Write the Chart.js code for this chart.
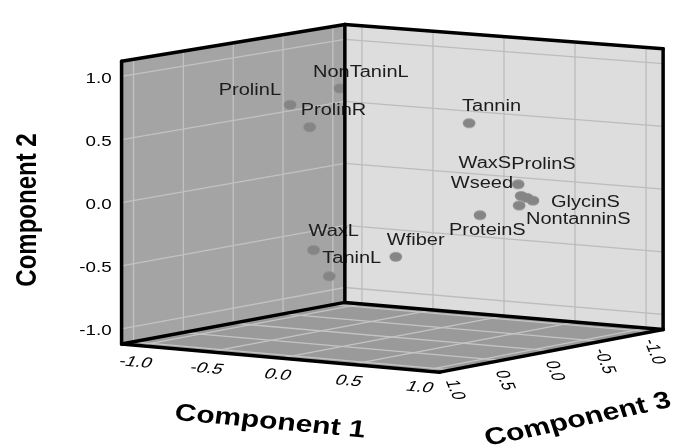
<!DOCTYPE html>
<html><head><meta charset="utf-8">
<script src="https://cdn.jsdelivr.net/npm/chart.js@4.4.0/dist/chart.umd.min.js"></script>
<style>html,body{margin:0;padding:0;background:#fff;overflow:hidden}canvas{display:block}</style>
</head><body>
<canvas id="c" width="676" height="445"></canvas>
<script>
// ---- data (component loadings) ----
const labels = ['NonTaninL','ProlinL','ProlinR','Tannin','ProlinS','WaxS','NontanninS','GlycinS','Wseed','ProteinS','Wfiber','WaxL','TaninL'];
const component1 = [-0.158,-0.580,-0.512,0.400,0.780,0.766,0.772,0.779,0.822,0.792,0.410,-0.204,-0.023];
const component2 = [0.886,0.702,0.517,0.591,0.148,0.047,0.025,-0.004,-0.010,-0.039,-0.362,-0.375,-0.551];
const component3 = [0.30,0.20,0.10,-0.20,-0.15,-0.20,-0.25,-0.30,-0.10,0.25,0.55,0.50,0.60];
const tickValues = [-1.0,-0.5,0.0,0.5,1.0];
const tickLabels = ['-1.0','-0.5','0.0','0.5','1.0'];
const axisTitles = ['Component 1','Component 2','Component 3'];

// ---- layout / style ----
const R = 1.12; // half extent of the cube in loading units
const box = {
  bottom:{D:[345,305],C:[670,333],A:[117,348],B:[442,377]},
  top:{D:[345,18],C:[670,43],A:[117,56],B:[442,84]}
};
// label placement: [align, dx, dy]
const labelPlace = {
  NonTaninL:['left',-27,-16], ProlinL:['right',-9,-14], ProlinR:['left',-9,-17], Tannin:['left',-7,-17],
  ProlinS:['left',-7,-20], WaxS:['right',-10,-32], NontanninS:['left',-1,22], GlycinS:['left',18,2],
  Wseed:['right',-6,-22], ProteinS:['left',-31,15], Wfiber:['left',-9,-16], WaxL:['left',-5,-18], TaninL:['left',-7,-18]
};
const SX = 1.25; // horizontal text stretch
const FONT = '"Liberation Sans", Arial, sans-serif';

function proj(c1,c2,c3){
  const u=(c1+R)/(2*R), v=(c2+R)/(2*R), w=(c3+R)/(2*R);
  const bil=q=>[0,1].map(i=>q.D[i]*(1-u)*(1-w)+q.C[i]*u*(1-w)+q.A[i]*(1-u)*w+q.B[i]*u*w);
  const b=bil(box.bottom), t=bil(box.top);
  return {x:b[0]+(t[0]-b[0])*v, y:b[1]+(t[1]-b[1])*v};
}

const pointImg=(()=>{const c=document.createElement('canvas');c.width=16;c.height=12;const g=c.getContext('2d');
  g.fillStyle='#858585';g.beginPath();g.ellipse(8,6,6.3,4.8,0,0,Math.PI*2);g.fill();return c;})();

function txt(ctx,s,x,y,o){
  ctx.save();ctx.translate(x,y);ctx.scale(o.sx||SX,1);if(o.rot)ctx.rotate(o.rot);
  if(o.skew)ctx.transform(1,0,o.skew,1,0,0);
  ctx.font=o.font;ctx.textAlign=o.align||'center';ctx.textBaseline=o.base||'middle';ctx.fillStyle=o.color||'#000';
  ctx.fillText(s,0,0);ctx.restore();
}

const cubePlugin={
  id:'cube',
  beforeDatasetsDraw(chart){
    const ctx=chart.ctx, xs=chart.scales.x, ys=chart.scales.y;
    const P=(a,b,c)=>{const p=proj(a,b,c);return [xs.getPixelForValue(p.x),ys.getPixelForValue(p.y)];};
    const poly=(pts,fill)=>{ctx.beginPath();pts.forEach((p,i)=>i?ctx.lineTo(p[0],p[1]):ctx.moveTo(p[0],p[1]));ctx.closePath();ctx.fillStyle=fill;ctx.fill();};
    const line=(p,q,col,w)=>{ctx.beginPath();ctx.moveTo(p[0],p[1]);ctx.lineTo(q[0],q[1]);ctx.strokeStyle=col;ctx.lineWidth=w;ctx.stroke();};
    ctx.save();
    // walls
    poly([P(-R,-R,R),P(-R,-R,-R),P(-R,R,-R),P(-R,R,R)],'#a4a4a4');
    poly([P(-R,-R,-R),P(R,-R,-R),P(R,R,-R),P(-R,R,-R)],'#dddddd');
    poly([P(-R,-R,R),P(R,-R,R),P(R,-R,-R),P(-R,-R,-R)],'#9a9a9a');
    // grid
    tickValues.forEach(t=>{
      line(P(-R,t,R),P(-R,t,-R),'#c2c2c2',1.3);
      line(P(-R,-R,t),P(-R,R,t),'#c2c2c2',1.3);
      line(P(-R,t,-R),P(R,t,-R),'#bcbcbc',1.3);
      line(P(t,-R,-R),P(t,R,-R),'#bcbcbc',1.3);
      line(P(t,-R,-R),P(t,-R,R),'#c4c4c4',1.3);
      line(P(-R,-R,t),P(R,-R,t),'#c4c4c4',1.3);
    });
    // tick labels
    const f15='15px '+FONT;
    tickValues.forEach((t,i)=>{
      const a=P(-R,t,R); txt(ctx,tickLabels[i],a[0]-10,a[1]+2,{font:f15,align:'right'});
      const b=P(t,-R,R); txt(ctx,tickLabels[i],b[0]-3,b[1]+17,{font:f15,rot:0.11,skew:-0.28});
      const c=P(R,-R,t); txt(ctx,tickLabels[i],c[0]+3,c[1]+20,{font:f15,rot:1.25,skew:-0.2});
    });
    // axis titles
    const fb='bold 24px '+FONT;
    txt(ctx,axisTitles[0],270,422,{font:fb,rot:0.117});
    txt(ctx,axisTitles[1],28,210,{font:fb,rot:-Math.PI/2});
    txt(ctx,axisTitles[2],578,420,{font:fb,rot:-0.26});
    ctx.restore();
  },
  afterDatasetsDraw(chart){
    const ctx=chart.ctx, xs=chart.scales.x, ys=chart.scales.y;
    const P=(a,b,c)=>{const p=proj(a,b,c);return [xs.getPixelForValue(p.x),ys.getPixelForValue(p.y)];};
    ctx.save();
    const f16='16px '+FONT;
    chart.data.datasets[0].data.forEach((d,i)=>{
      const px=xs.getPixelForValue(d.x), py=ys.getPixelForValue(d.y);
      const pl=labelPlace[labels[i]]||['left',-8,-17];
      txt(ctx,labels[i],px+pl[1],py+pl[2],{font:f16,align:pl[0],color:'#1c1c1c'});
    });
    // box edges
    ctx.strokeStyle='#000';ctx.lineWidth=3.5;ctx.lineJoin='round';ctx.lineCap='round';
    const E=[[[-R,-R,R],[-R,R,R]],[[-R,R,R],[-R,R,-R]],[[-R,R,-R],[-R,-R,-R]],[[-R,R,-R],[R,R,-R]],[[R,R,-R],[R,-R,-R]],
      [[-R,-R,R],[-R,-R,-R]],[[-R,-R,-R],[R,-R,-R]],[[-R,-R,R],[R,-R,R]],[[R,-R,R],[R,-R,-R]]];
    E.forEach(([p,q])=>{const a=P(...p),b=P(...q);ctx.beginPath();ctx.moveTo(a[0],a[1]);ctx.lineTo(b[0],b[1]);ctx.stroke();});
    ctx.restore();
  }
};

new Chart(document.getElementById('c'),{
  type:'scatter',
  data:{datasets:[{
    label:'Component loadings',
    data:labels.map((l,i)=>proj(component1[i],component2[i],component3[i])),
    pointStyle:pointImg, pointRadius:6, pointHoverRadius:6
  }]},
  options:{
    responsive:false, animation:false, devicePixelRatio:1,
    layout:{padding:0},
    plugins:{legend:{display:false},tooltip:{enabled:false}},
    scales:{
      x:{type:'linear',min:0,max:676,display:false},
      y:{type:'linear',min:0,max:445,reverse:true,display:false}
    }
  },
  plugins:[cubePlugin]
});
</script>
</body></html>
